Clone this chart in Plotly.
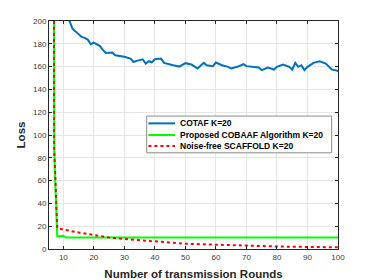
import plotly.graph_objects as go

cotaf_x = [11, 12, 13, 14, 16, 17, 18, 19, 20, 22, 23, 24, 26, 27, 29, 30, 32, 33, 34, 36,
           37, 38, 39, 40, 42, 43, 46, 48, 50, 52, 54, 56, 57, 59, 60, 62, 64, 65, 67, 69,
           70, 72, 74, 75, 77, 79, 80, 82, 84, 85, 86, 87, 88, 89, 90, 92, 94, 96, 98, 99, 100]
cotaf_y = [212, 200, 193.3, 191, 186, 185.2, 183.7, 179.6, 181, 178, 174.4, 172, 172.4, 170, 169, 168.7, 167, 164, 165, 166.4,
           162.6, 164.7, 163.8, 166.4, 167, 163.2, 161.2, 160, 163, 161.8, 158.3, 163.3, 161.2, 160.4, 163.6, 161.2, 159.8, 158.3, 159.8, 162.1,
           160.4, 159.8, 159.2, 156.9, 159.2, 157.4, 159.8, 161.8, 159.8, 157.4, 163.3, 159.8, 161.2, 156.9, 159.8, 163.3, 164.7, 162.7, 157.4, 156.9, 156]

cobaaf_x = [6, 7, 8, 10, 11, 20, 40, 60, 80, 100]
cobaaf_y = [2000, 85, 11.0, 11.5, 10, 10, 10, 10, 10, 10]

scaffold_x = [6, 7, 8, 10, 12, 15, 20, 25, 30, 40, 50, 60, 70, 80, 90, 100]
scaffold_y = [2000, 90, 18.2, 17.4, 16, 14.5, 12, 10, 8.8, 6.5, 4.6, 3.8, 2.8, 2.2, 1.8, 1.5]

names = ["COTAF K=20", "Proposed COBAAF Algorithm K=20", "Noise-free SCAFFOLD K=20"]
colors = ["#0072BD", "#00FF00", "#FF0000"]
dashes = ["solid", "solid", "dot"]

fig = go.Figure()
for xs, ys, nm, c, d in zip([cotaf_x, cobaaf_x, scaffold_x], [cotaf_y, cobaaf_y, scaffold_y], names, colors, dashes):
    fig.add_trace(go.Scatter(x=xs, y=ys, mode="lines", name=nm, showlegend=False,
                             line=dict(color=c, width=2, dash=d)))

axis_common = dict(showline=True, linecolor="#262626", linewidth=1, mirror="allticks",
                   ticks="inside", ticklen=3, tickcolor="#262626", automargin=False,
                   showgrid=True, gridcolor="#e6e6e6", gridwidth=1, zeroline=False,
                   tickfont=dict(family="Liberation Sans, Arial", size=8, color="#3a3a3a"))

# custom compact legend (paper coordinates)
leg_x0, leg_x1, leg_y0, leg_y1 = 0.338, 0.978, 0.422, 0.583
line_x0, line_x1, text_x = 0.344, 0.436, 0.447
entry_y = [0.551, 0.500, 0.452]

shapes = [dict(type="rect", xref="paper", yref="paper", x0=leg_x0, x1=leg_x1, y0=leg_y0, y1=leg_y1,
               fillcolor="white", line=dict(color="#8c8c8c", width=1), layer="above")]
annotations = []
for nm, c, d, yy in zip(names, colors, dashes, entry_y):
    shapes.append(dict(type="line", xref="paper", yref="paper", x0=line_x0, x1=line_x1, y0=yy, y1=yy,
                       line=dict(color=c, width=2, dash=d), layer="above"))
    annotations.append(dict(xref="paper", yref="paper", x=text_x, y=yy, xanchor="left", yanchor="middle",
                            text="<b>" + nm + "</b>", showarrow=False,
                            font=dict(family="Liberation Sans, Arial", size=8.5, color="black")))

fig.update_layout(
    template="none",
    width=374, height=280,
    margin=dict(l=49, r=36, t=21, b=31, pad=0, autoexpand=False),
    paper_bgcolor="white", plot_bgcolor="white",
    font=dict(family="Liberation Sans, Arial", color="#262626"),
    xaxis=dict(range=[5.3, 100], tick0=10, dtick=10,
               title=dict(text="<b>Number of transmission Rounds</b>", font=dict(size=11.5, color="#262626"), standoff=9),
               **axis_common),
    yaxis=dict(range=[0, 200], tick0=0, dtick=20,
               title=dict(text="<b>Loss</b>", font=dict(size=11.5, color="#262626"), standoff=5),
               **axis_common),
    shapes=shapes,
    annotations=annotations,
    showlegend=False,
)

fig.write_html("out.html", config={"displayModeBar": False, "staticPlot": True},
               post_script="document.body.style.margin='0';document.body.style.overflow='hidden';")
